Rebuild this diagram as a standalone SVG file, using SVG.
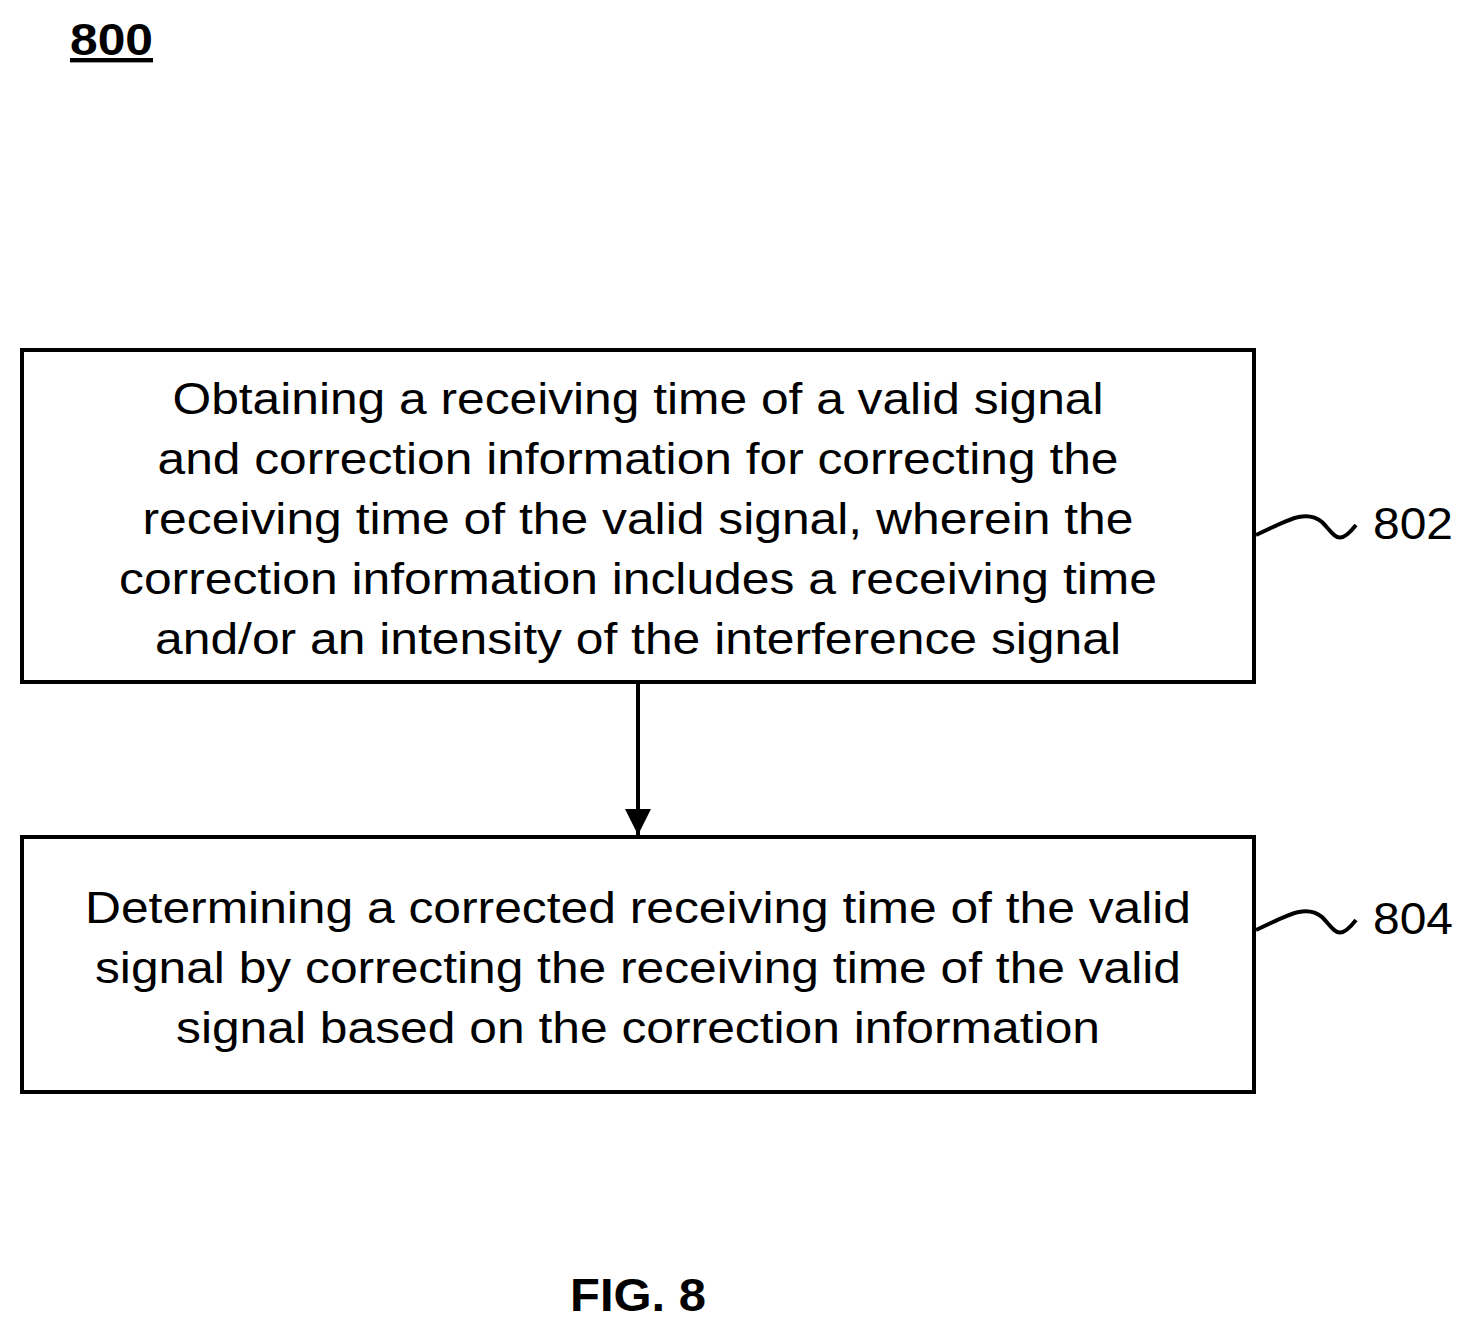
<svg xmlns="http://www.w3.org/2000/svg" width="1474" height="1333" viewBox="0 0 1474 1333">
<style>
.box{fill:#fff;stroke:#000;stroke-width:4}
.t{font-family:"Liberation Sans",Arial,sans-serif;font-size:45px;text-anchor:middle;fill:#000}
.lbl{font-family:"Liberation Sans",Arial,sans-serif;font-size:45px;fill:#000}
.b{font-family:"Liberation Sans",Arial,sans-serif;font-weight:bold;fill:#000}
.w{fill:none;stroke:#000;stroke-width:4}
</style>
<defs><marker id="a" markerWidth="26" markerHeight="26" refX="26" refY="13" orient="auto" markerUnits="userSpaceOnUse"><path d="M0,0 L26,13 L0,26 z" fill="#000"/></marker></defs>
<text class="b" x="70" y="55" font-size="44" text-decoration="underline" textLength="83" lengthAdjust="spacingAndGlyphs">800</text>
<g id="n802"><rect class="box" x="22" y="350" width="1232" height="332"/>
<text class="t" x="638" y="414" textLength="931" lengthAdjust="spacingAndGlyphs">Obtaining a receiving time of a valid signal</text>
<text class="t" x="638" y="474" textLength="961" lengthAdjust="spacingAndGlyphs">and correction information for correcting the</text>
<text class="t" x="638" y="534" textLength="991" lengthAdjust="spacingAndGlyphs">receiving time of the valid signal, wherein the</text>
<text class="t" x="638" y="594" textLength="1038" lengthAdjust="spacingAndGlyphs">correction information includes a receiving time</text>
<text class="t" x="638" y="654" textLength="966" lengthAdjust="spacingAndGlyphs">and/or an intensity of the interference signal</text>
<path class="w" d="M1256,535 C1285,522 1305,508 1322,522 C1335,535 1338,548 1356,525"/>
<text class="lbl" x="1373" y="539" textLength="80" lengthAdjust="spacingAndGlyphs">802</text></g>
<g id="n804"><rect class="box" x="22" y="837" width="1232" height="255"/>
<text class="t" x="638" y="923" textLength="1106" lengthAdjust="spacingAndGlyphs">Determining a corrected receiving time of the valid</text>
<text class="t" x="638" y="983" textLength="1086" lengthAdjust="spacingAndGlyphs">signal by correcting the receiving time of the valid</text>
<text class="t" x="638" y="1043" textLength="924" lengthAdjust="spacingAndGlyphs">signal based on the correction information</text>
<path class="w" d="M1256,930 C1285,917 1305,903 1322,917 C1335,930 1338,943 1356,920"/>
<text class="lbl" x="1373" y="934" textLength="80" lengthAdjust="spacingAndGlyphs">804</text></g>
<g id="connectors"><line x1="638" y1="682" x2="638" y2="835" stroke="#000" stroke-width="4" marker-end="url(#a)"/></g>
<text class="b" x="638" y="1311" font-size="47" text-anchor="middle" textLength="136" lengthAdjust="spacingAndGlyphs">FIG. 8</text>
</svg>
